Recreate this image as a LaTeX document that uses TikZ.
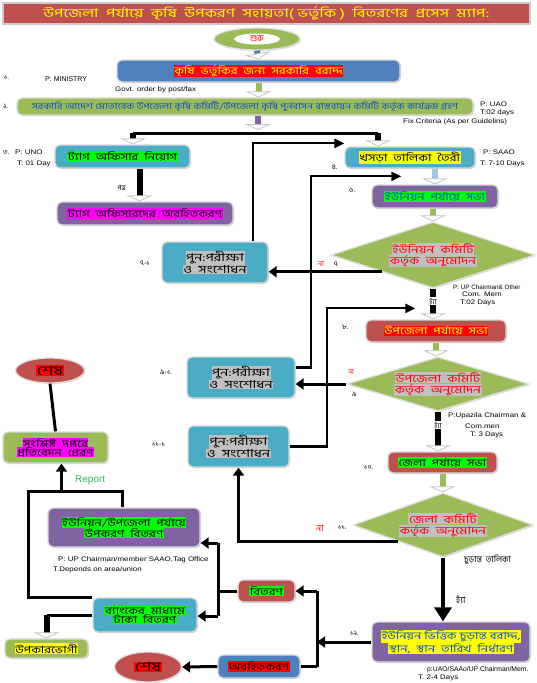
\documentclass[tikz,border=0pt]{standalone}
\usepackage{fontspec}
\usepackage{graphicx}
\setmainfont{Liberation Sans}
\newfontfamily\bn[Script=Bengali]{Hind Siliguri}
\usetikzlibrary{shapes.geometric,arrows.meta,shadows,calc}
\definecolor{cblue}{HTML}{4F81BD}
\definecolor{cteal}{HTML}{4BACC6}
\definecolor{cpurp}{HTML}{8064A2}
\definecolor{cred}{HTML}{C0504D}
\definecolor{colive}{HTML}{9BBB59}
\definecolor{lblue}{HTML}{9DC3E6}
\definecolor{hlgreen}{HTML}{00FF00}
\definecolor{hlyellow}{HTML}{FFFF00}
\definecolor{hlmag}{HTML}{FF00FF}
\definecolor{hlred}{HTML}{FF0000}
\definecolor{hlgray}{HTML}{C0C0C0}
\definecolor{tblue}{HTML}{0F4FC8}
\definecolor{rgreen}{HTML}{2FBF5F}
\newcommand\hsx{1.3}
\newcommand\hlc[3]{{\setlength{\fboxsep}{0.6pt}\colorbox{#1}{\color{#2}\scalebox{\hsx}[1]{#3}}}}
\newcommand\lt[1]{\scalebox{1.2}[1]{#1}}
\tikzset{
  bx/.style={rounded corners=5pt, draw=gray!30, line width=1.3pt, inner sep=1pt, align=center,
    font=\bn\fontsize{10}{11}\selectfont,
    drop shadow={shadow xshift=1pt, shadow yshift=-1pt, opacity=0.35}},
  pbx/.style={bx, fill=cteal, minimum height=41, font=\bn\fontsize{11}{12.5}\selectfont},
  dia/.style={diamond, aspect=3, fill=colive, draw=gray!25, line width=1.2pt, inner sep=0pt, align=center,
    font=\bn\fontsize{10.5}{12}\selectfont,
    drop shadow={shadow xshift=1pt, shadow yshift=-1pt, opacity=0.3}},
  ell/.style={ellipse, fill=cred, draw=gray!25, line width=1.3pt, inner sep=0pt,
    font=\bn\fontsize{13}{14}\selectfont,
    drop shadow={shadow xshift=1pt, shadow yshift=-1pt, opacity=0.3}},
  stem/.style={line width=6pt, draw=#1, -{Triangle[width=26pt, length=6pt, line width=0.8pt, fill=white, color=gray!45]}},
  blkline/.style={line width=3pt, black},
  blkarrow/.style={line width=3pt, black, -{Triangle[width=11pt, length=8pt]}},
  loopar/.style={line width=2.2pt, black, -{Triangle[width=9pt, length=10pt]}},
  lab/.style={font=\fontsize{6.6}{7}\selectfont, inner sep=0pt, anchor=west},
  bnlab/.style={font=\bn\fontsize{7}{8}\selectfont, inner sep=0pt, anchor=west},
}
\begin{document}
\begin{tikzpicture}[x=1pt,y=-1pt]
\useasboundingbox[fill=white] (0,0) rectangle (536,683);

% title
\node[fill=cred, draw=gray!40, line width=1.5pt, minimum width=527, minimum height=21, inner sep=0pt,
  font=\bn\fontsize{12}{13}\selectfont, text=hlyellow,
  drop shadow={shadow xshift=1pt, shadow yshift=-1pt, opacity=0.3}] (title) at (266.5,13.5)
  {\scalebox{1.38}[1]{উপজেলা \ পর্যায়ে \ কৃষি \ উপকরণ \ সহায়তা( ভর্তুকি ) \ বিতরণের \ প্রসেস \ ম্যাপ:}};

% start
\node[ellipse, fill=colive, draw=gray!25, line width=1.3pt, minimum width=86, minimum height=22,
  drop shadow={shadow xshift=1pt, shadow yshift=-1pt, opacity=0.3}] (start) at (257,39) {};
\node[ellipse, fill=white, minimum width=46, minimum height=11, inner sep=0pt,
  font=\bn\fontsize{9}{10}\selectfont, text=hlred] (startin) at (start.center) {শুরু};

% main boxes
\node[bx, fill=cblue, minimum width=283, minimum height=22] (n1) at (258.5,71)
  {\hlc{hlred}{hlyellow}{কৃষি \ ভর্তুকির \ জন্য \ সরকারি \ বরাদ্দ}};
\node[bx, fill=colive, minimum width=456, minimum height=17, font=\bn\fontsize{8.5}{9}\selectfont, text=tblue] (n2) at (245,106.5)
  {\scalebox{1.25}[1]{সরকারি আদেশ মোতাবেক উপজেলা কৃষি কমিটি/উপজেলা কৃষি পুর্নবাসন বাস্তবায়ন কমিটি কর্তৃক কার্যক্রম গ্রহণ}};
\node[bx, fill=cteal, minimum width=135, minimum height=23] (n3) at (122.5,156.5)
  {\hlc{hlgreen}{black}{ট্যাগ \ অফিসার \ নিয়োগ}};
\node[bx, fill=cpurp, minimum width=176, minimum height=23] (n3b) at (145,213.5)
  {\hlc{hlmag}{black}{ট্যাগ \ অফিসারদের \ অবহিতকরণ}};
\node[bx, fill=cteal, minimum width=130, minimum height=21] (n4) at (410,157.5)
  {\hlc{hlyellow}{black}{খসড়া \ তালিকা \ তৈরী}};
\node[bx, fill=cpurp, minimum width=126, minimum height=23] (n6) at (435,196.5)
  {\hlc{hlgreen}{tblue}{ইউনিয়ন \ পর্যায়ে \ সভা}};
\node[dia, minimum width=204, minimum height=66] (d7) at (433,255)
  {\hlc{hlgray}{hlred}{ইউনিয়ন \ কমিটি}\\[-1pt]\hlc{hlgray}{hlred}{কর্তৃক \ অনুমোদন}};
\node[pbx, minimum width=106] (p71) at (215,262.5)
  {\hlc{hlgray}{black}{পুন:পরীক্ষা}\\[-1pt]\hlc{hlgray}{black}{ও \ সংশোধন}};
\node[bx, fill=cred, minimum width=140, minimum height=22] (n8) at (436,331)
  {\hlc{hlred}{hlyellow}{উপজেলা \ পর্যায়ে \ সভা}};
\node[dia, minimum width=182, minimum height=54] (d9) at (438,384)
  {\hlc{hlgray}{hlred}{উপজেলা \ কমিটি}\\[-1pt]\hlc{hlgray}{hlred}{কর্তৃক \ অনুমোদন}};
\node[pbx, minimum width=108] (p91) at (241,377.5)
  {\hlc{hlgray}{black}{পুন:পরীক্ষা}\\[-1pt]\hlc{hlgray}{black}{ও \ সংশোধন}};
\node[pbx, minimum width=101] (p111) at (238.5,446.5)
  {\hlc{hlgray}{black}{পুন:পরীক্ষা}\\[-1pt]\hlc{hlgray}{black}{ও \ সংশোধন}};
\node[bx, fill=cred, minimum width=109, minimum height=21] (n10) at (442.5,462.5)
  {\hlc{hlgreen}{black}{জেলা \ পর্যায়ে \ সভা}};
\node[dia, minimum width=180, minimum height=64] (d11) at (443,525)
  {\hlc{hlgray}{hlred}{জেলা \ কমিটি}\\[-1pt]\hlc{hlgray}{hlred}{কর্তৃক \ অনুমোদন}};
\node[bx, fill=cpurp, minimum width=158, minimum height=40] (n12) at (451,642)
  {\hlc{hlyellow}{tblue}{ইউনিয়ন ভিত্তিক চুড়ান্ত বরাদ্দ,}\\[-1pt]\hlc{hlyellow}{tblue}{স্থান, \ স্থান \ তারিখ \ নির্ধারণ}};
\node[bx, fill=cred, minimum width=57, minimum height=22] (bit) at (266.5,591)
  {\hlc{hlgreen}{black}{বিতরণ}};
\node[bx, fill=cblue, minimum width=82, minimum height=23] (obo) at (259,666.5)
  {\hlc{hlred}{black}{অবহিতকরণ}};
\node[ell, minimum width=67, minimum height=30] (end2) at (148,667)
  {\hlc{hlred}{black}{শেষ}};
\node[bx, fill=cteal, minimum width=104, minimum height=34] (bank) at (145,615)
  {\hlc{hlgreen}{black}{ব্যাংকের \ মাধ্যমে}\\[-2pt]\hlc{hlgreen}{black}{টাকা \ বিতরণ}};
\node[bx, fill=colive, minimum width=83, minimum height=19] (upk) at (46.5,648.5)
  {\hlc{hlyellow}{black}{উপকারভোগী}};
\node[bx, fill=cpurp, minimum width=152, minimum height=39] (upr) at (124,527.5)
  {\hlc{hlgreen}{black}{ইউনিয়ন/উপজেলা \ পর্যায়ে}\\[-1pt]\hlc{hlgreen}{black}{উপকরণ \ বিতরণ}};
\node[bx, fill=colive, minimum width=105, minimum height=31] (rep) at (55.5,447.5)
  {\hlc{hlmag}{black}{সংশ্লিষ্ট \ দপ্তরে}\\[-2pt]\hlc{hlmag}{black}{প্রতিবেদন \ প্রেরণ}};
\node[ell, minimum width=69, minimum height=25] (end1) at (50,370.5)
  {\hlc{hlred}{black}{শেষ}};

% coordinates
\coordinate (sM) at (258,130);
\coordinate (sL) at (133,133);
\coordinate (sR) at (378,133);
\coordinate (a3) at ($(n3.south)+(17,0)$);
\coordinate (l71) at ($(p71.north east)+(-16,0)$);
\coordinate (t4) at ($(n4.north west)+(0,-3)$);
\coordinate (r91) at ($(p91.east)+(0,-10)$);
\coordinate (t6) at ($(n6.north west)+(30,-8)$);
\coordinate (t8) at ($(n8.north west)+(50,-11)$);
\coordinate (q1) at (317,591);
\coordinate (q2) at (317,666.5);
\coordinate (w1) at (218,543);
\coordinate (w2) at (218,616);
\coordinate (u1) at ($(upr.north)+(-2,0)$);
\coordinate (rt) at (28,491);
\coordinate (rb) at (28,597);
\coordinate (rp) at ($(rep.south)+(6,0)$);

% block arrows
\draw[stem=cblue] (start.south) -- (n1.north);
\draw[stem=colive] (n1.south) -- (n1.south |- n2.north);
\draw[stem=cpurp] (sM |- n2.south) -- (sM);
\draw[blkline] (sL) -- (sR);
\draw[stem=black] (sL) -- (sL |- n3.north);
\draw[stem=black] (sR) -- (sR |- n4.north);
\draw[stem=black] (a3) -- (a3 |- n3b.north);
\draw[stem=lblue] (n6.north |- n4.south) -- (n6.north);
\draw[stem=colive] (d7.north |- n6.south) -- (d7.north);
\draw[stem=black] (d7.south) -- (d7.south |- n8.north);
\draw[stem=colive] (n8.south) -- (n8.south |- d9.north);
\draw[stem=black] (d9.south) -- (d9.south |- n10.north);
\draw[stem=colive] (n10.south) -- (n10.south |- d11.north);
\draw[line width=4.5pt, black, -{Triangle[width=17pt, length=14pt]}] (d11.south) -- (d11.south |- n12.north);

% no branches
\draw[blkarrow] (d7.south west) -- (d7.south west -| p71.east);
\draw[blkarrow] (d9.west) -- (d9.west -| p91.east);
\draw[blkarrow] (d11.south west) -| (p111.south);

% loops back
\draw[loopar] (l71) |- (t4);
\draw[loopar] (r91) -- ++(15,0) |- (t6);
\draw[loopar] (p111.east) -- ++(37,0) |- (t8);

% bottom distribution
\draw[blkline] (q1) -- (q2);
\draw[blkarrow] (n12.west) -- (n12.west -| q1);
\draw[blkarrow] (q1) -- (bit.east);
\draw[blkline] (q2) -- (obo.east);
\draw[blkline] (bit.west) -- (bit.west -| w1);
\draw[blkline] (w1) -- (w2);
\draw[blkarrow] (w1) -- (w1 -| upr.east);
\draw[blkarrow] (w2) -- (w2 -| bank.east);
\draw[blkarrow] (obo.west) -- (end2.east);
\draw[blkline] (bank.west) -- (bank.west -| upk.north);
\draw[stem=black] (bank.west -| upk.north) -- (upk.north);
\draw[blkline] (u1) |- (rt) -- (rb) -- (rb -| bank.west);
\draw[blkarrow] (rp |- rt) -- (rp);
\draw[blkline] (end1.south) -- (rep.north);

% labels
\node[bnlab] (L1) at (4,78) {১.};
\node[lab, font=\fontsize{7}{8}\selectfont] (L1b) at (45,79) {P: MINISTRY};
\node[lab] (L1c) at (115,90) {\lt{Govt. order by post/fax}};
\node[bnlab] (L2) at (3,106) {২.};
\node[lab] (L2a) at (480,104) {\lt{P: UAO}};
\node[lab] (L2b) at (480,113) {\lt{T:02 days}};
\node[lab] (L2c) at (403,122) {\lt{Fix Criteria (As per Guidelins)}};
\node[bnlab] (L3) at (3,152) {৩.};
\node[lab] (L3a) at (15,152) {\lt{P: UNO}};
\node[lab] (L3b) at (17,164) {\lt{T: 01 Day}};
\node[bnlab, anchor=east] (L3c) at (126,188) {পত্র};
\node[bnlab] (L4) at (332,167) {৪.};
\node[lab] (L4a) at (483,152) {\lt{P: SAAO}};
\node[lab] (L4b) at (480,164) {\lt{T: 7-10 Days}};
\node[bnlab] (L6) at (349,190) {৬.};
\node[bnlab, text=hlred] (L7n) at (318,264) {না};
\node[bnlab] (L7) at (334,264) {৭};
\node[bnlab] (L71) at (140,263) {৭-১};
\node[bnlab, fill=white, inner sep=0.5pt, anchor=center] (L7y) at (433,301) {হ্যাঁ};
\node[lab, font=\fontsize{6.3}{7}\selectfont] (L7a) at (453,287) {P: UP Chairman\& Other};
\node[lab] (L7b) at (462,294) {\lt{Com. Mem}};
\node[lab] (L7c) at (460,303) {\lt{T:02 Days}};
\node[bnlab] (L8) at (342,327) {৮.};
\node[bnlab, text=hlred] (L9n) at (348,372) {না};
\node[bnlab] (L9) at (352,394) {৯};
\node[bnlab] (L91) at (160,372) {৯-১.};
\node[bnlab, fill=white, inner sep=0.5pt, anchor=center] (L9y) at (438,425) {হ্যাঁ};
\node[lab] (L9a) at (448,416) {\lt{P:Upazila Chairman \&}};
\node[lab] (L9b) at (465,426) {\lt{Com.men}};
\node[lab] (L9c) at (470,435) {\lt{T: 3 Days}};
\node[bnlab] (L111) at (152,444) {১১-১};
\node[bnlab] (L10) at (364,468) {১০.};
\node[bnlab, text=hlred, font=\bn\fontsize{9}{10}\selectfont] (L11n) at (316,528) {না};
\node[bnlab] (L11) at (338,528) {১১.};
\node[bnlab, font=\bn\fontsize{8.5}{9}\selectfont] (L11f) at (464,560) {চুড়ান্ত \ তালিকা};
\node[bnlab, font=\bn\fontsize{9}{10}\selectfont] (L11y) at (456,600) {হ্যাঁ};
\node[bnlab] (L12) at (350,633) {১২.};
\node[lab, font=\fontsize{6.8}{7}\selectfont] (L12a) at (427,670) {p:UAO/SAAo/UP Chairman/Mem.};
\node[lab] (L12b) at (418,678) {\lt{T. 2-4 Days}};
\node[lab, font=\fontsize{10}{11}\selectfont, text=rgreen] (Lrep) at (75,480) {Report};
\node[lab] (Lu1) at (58,560) {\lt{P: UP Chairman/member SAAO,Tag Office}};
\node[lab] (Lu2) at (53,570) {\lt{T.Depends on area/union}};
\end{tikzpicture}
\end{document}
